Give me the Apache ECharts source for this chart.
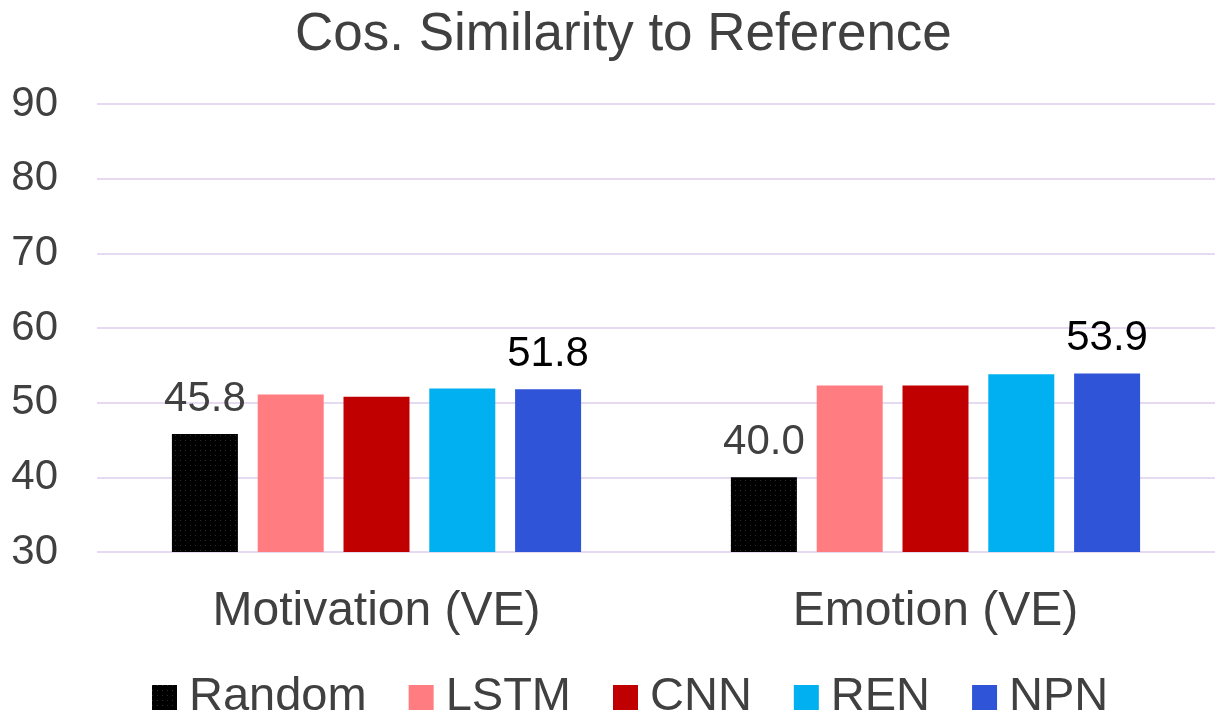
<!DOCTYPE html>
<html><head><meta charset="utf-8">
<script src="https://cdn.jsdelivr.net/npm/echarts@6/dist/echarts.min.js"></script>
<style>html,body{margin:0;padding:0;background:#fff}#c{width:1215px;height:715px}</style>
</head><body><div id="c"></div>
<script>
const categories = ['Motivation (VE)', 'Emotion (VE)'];
const seriesNames = ['Random', 'LSTM', 'CNN', 'REN', 'NPN'];
const random = [45.8, 40.0];
const lstm = [51.1, 52.3];
const cnn = [50.8, 52.3];
const ren = [51.9, 53.8];
const npn = [51.8, 53.9];
const yTicks = [30, 40, 50, 60, 70, 80, 90];
const colors = ['#000000', '#ff7c80', '#c00000', '#00b0f0', '#2f54d8'];
const values = [random, lstm, cnn, ren, npn];
const labelled = {Random: '#404040', NPN: '#000000'};

const FONT = '"Liberation Sans", Arial, sans-serif';
const dotDecal = {symbol: 'rect', symbolSize: 1, color: 'rgba(45,45,45,1)', dashArrayX: [1, 4], dashArrayY: [1, 4], rotation: 0};
const chart = echarts.init(document.getElementById('c'));
chart.setOption({
  animation: false,
  color: colors,
  title: {
    text: 'Cos. Similarity to Reference', left: 290, top: 4,
    textStyle: {fontFamily: FONT, fontSize: 53, fontWeight: 'normal', color: '#404040'}
  },
  legend: {
    top: 674, left: 152, padding: 0, itemWidth: 25, itemHeight: 25, itemGap: 42, icon: 'rect',
    textStyle: {fontFamily: FONT, fontSize: 47, color: '#404040', padding: [0, 0, 0, 7]},
    data: seriesNames
  },
  grid: {left: 97, right: -5, top: 104, bottom: 163, containLabel: false},
  xAxis: {
    type: 'category', data: categories,
    axisLine: {show: false}, axisTick: {show: false},
    axisLabel: {fontFamily: FONT, fontSize: 48, color: '#404040', margin: 36}
  },
  yAxis: {
    type: 'value', min: yTicks[0], max: yTicks[yTicks.length - 1], interval: 10,
    axisLine: {show: false}, axisTick: {show: false},
    axisLabel: {fontFamily: FONT, fontSize: 42, color: '#404040', margin: 39},
    splitLine: {lineStyle: {color: '#e6d9f2', width: 2}}
  },
  series: seriesNames.map((n, i) => ({
    name: n, type: 'bar', data: values[i],
    barGap: '30%', barCategoryGap: '26.8%',
    itemStyle: Object.assign({color: colors[i]}, i === 0 ? {decal: dotDecal} : {}),
    label: labelled[n] ? {
      show: true, position: 'top', distance: 14,
      fontFamily: FONT, fontSize: 42, color: labelled[n],
      formatter: p => p.value.toFixed(1)
    } : {show: false}
  }))
});
</script></body></html>
